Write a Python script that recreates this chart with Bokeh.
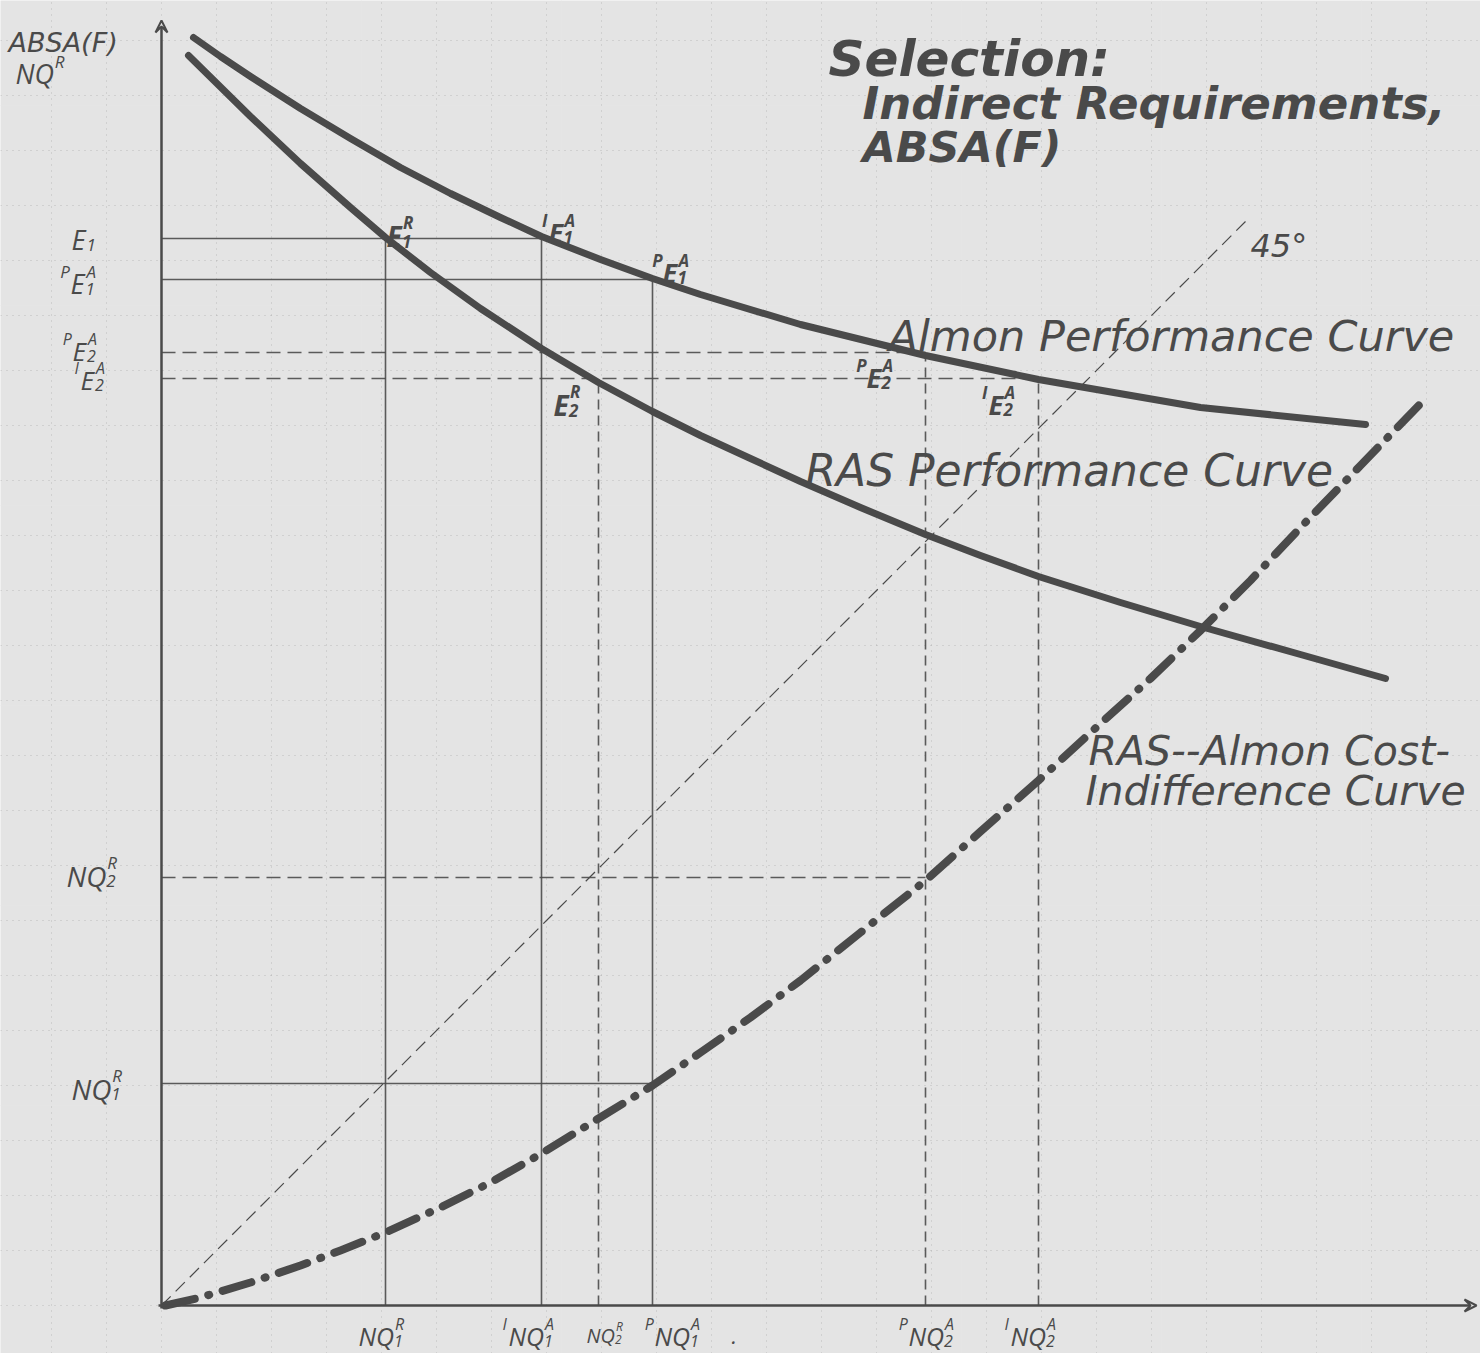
from bokeh.plotting import figure
from bokeh.models import ColumnDataSource, Arrow, VeeHead, Grid, SingleIntervalTicker, Range1d
from bokeh.core.properties import value
from bokeh.embed import file_html
from bokeh.resources import INLINE

INK = "#4a4a4a"
BG = "#e4e4e4"
FONT = "Open Sans"
HAND = "DejaVu Sans"

# ---- data (chart units; 1 unit = 100 px of the sketch, origin at the axes' corner) ----
almon_x = [0.32, 0.59, 0.89, 1.39, 1.89, 2.39, 2.89, 3.39, 3.80, 4.39, 4.91, 5.39,
           6.39, 7.64, 8.77, 10.39, 12.04]
almon_y = [12.68, 12.49, 12.29, 11.97, 11.67, 11.38, 11.12, 10.88, 10.69, 10.46, 10.27,
           10.11, 9.81, 9.50, 9.26, 8.98, 8.81]

ras_x = [0.27, 0.89, 1.39, 1.89, 2.24, 2.69, 3.19, 3.80, 4.37, 4.91, 5.39, 5.89, 6.39,
         6.99, 7.64, 8.19, 8.77, 9.59, 10.39, 11.39, 12.24]
ras_y = [12.50, 11.89, 11.42, 10.98, 10.68, 10.33, 9.97, 9.57, 9.23, 8.94, 8.70, 8.47,
         8.24, 7.98, 7.71, 7.50, 7.29, 7.03, 6.79, 6.51, 6.27]

cost_x = [0.04, 0.39, 0.89, 1.39, 1.79, 2.24, 2.79, 3.29, 3.80, 4.37, 4.91, 5.39, 5.89,
          6.39, 6.99, 7.64, 8.19, 8.77, 9.39, 9.89, 10.39, 10.89, 11.39, 11.99, 12.64]
cost_y = [0.00, 0.08, 0.23, 0.40, 0.55, 0.73, 0.98, 1.23, 1.52, 1.87, 2.20, 2.53, 2.88,
          3.25, 3.73, 4.25, 4.74, 5.25, 5.82, 6.27, 6.75, 7.25, 7.78, 8.40, 9.07]

deg45_x = [0.0, 10.85]
deg45_y = [0.0, 10.85]

# reference levels on the axes
x_levels = {"NQ1R": 2.24, "INQ1A": 3.80, "NQ2R": 4.37, "PNQ1A": 4.91, "PNQ2A": 7.64, "INQ2A": 8.77}
y_levels = {"E1": 10.67, "PE1A": 10.26, "PE2A": 9.53, "IE2A": 9.27, "NQ2R": 4.28, "NQ1R": 2.22}

# drop lines: (level name, extent)
v_solid = [("NQ1R", 10.67), ("INQ1A", 10.67), ("PNQ1A", 10.26)]
v_dash = [("NQ2R", 9.23), ("PNQ2A", 9.53), ("INQ2A", 9.27)]
h_solid = [("E1", 3.80), ("PE1A", 4.91), ("NQ1R", 4.91)]
h_dash = [("PE2A", 7.64), ("IE2A", 8.77), ("NQ2R", 7.64)]

p = figure(width=1480, height=1353,
           x_range=Range1d(-1.61, 13.19), y_range=Range1d(-0.48, 13.05),
           output_backend="svg", toolbar_location=None,
           x_axis_location=None, y_axis_location=None, min_border=0,
           background_fill_color=BG, border_fill_color=BG, outline_line_color=None)

# graph-paper grid
for dim in (0, 1):
    p.add_layout(Grid(dimension=dim, ticker=SingleIntervalTicker(interval=0.55),
                      grid_line_color="#9c9c9c", grid_line_dash="1 5",
                      grid_line_alpha=0.55, grid_line_width=1))

# axes
p.add_layout(Arrow(end=VeeHead(size=12, line_color=INK, line_width=2, fill_color=None),
                   x_start=0, y_start=-0.03, x_end=0, y_end=12.85,
                   line_color=INK, line_width=2.5))
p.add_layout(Arrow(end=VeeHead(size=12, line_color=INK, line_width=2, fill_color=None),
                   x_start=-0.03, y_start=0, x_end=13.15, y_end=0,
                   line_color=INK, line_width=2.5))

def seg(items, vertical):
    xs, ys = [], []
    for key, ext in items:
        if vertical:
            lv = x_levels[key]
            xs.append([lv, lv]); ys.append([0, ext])
        else:
            lv = y_levels[key]
            xs.append([0, ext]); ys.append([lv, lv])
    return xs, ys

for items, vert, dash in [(v_solid, True, "solid"), (v_dash, True, "10 6"),
                          (h_solid, False, "solid"), (h_dash, False, "14 7")]:
    xs, ys = seg(items, vert)
    p.multi_line(xs, ys, line_color=INK, line_width=1.6, line_dash=dash, line_alpha=0.9)

# 45 degree line
p.line(deg45_x, deg45_y, line_color=INK, line_width=1.2, line_dash="13 7")

# curves
p.line(almon_x, almon_y, line_color=INK, line_width=7, line_cap="round", line_join="round")
p.line(ras_x, ras_y, line_color=INK, line_width=7, line_cap="round", line_join="round")
p.line(cost_x, cost_y, line_color=INK, line_width=8, line_cap="round", line_join="round",
       line_dash="30 14 1 14")

# ---- text ----
CW = {"N": 0.66, "Q": 0.72, "E": 0.52, "I": 0.3, "P": 0.6}
PW = {"I": 0.32, "P": 0.55}

def sym(rows, x, y, main, pre="", sup="", sub="", size=26):
    """x,y: left/baseline of main symbol in chart units (1 unit = 100 px)."""
    w = sum(CW.get(c, 0.6) for c in main) * size / 100.0
    s2 = round(0.62 * size)
    rows.append((x, y, main, f"{size}px"))
    if pre:
        pw = sum(PW.get(c, 0.55) for c in pre) * s2 / 100.0
        rows.append((x - pw - 0.01, y + 0.45 * size / 100.0, pre, f"{s2}px"))
    if sup:
        rows.append((x + w + 0.02, y + 0.45 * size / 100.0, sup, f"{s2}px"))
    if sub:
        rows.append((x + w + 0.01, y - 0.2 * size / 100.0, sub, f"{s2}px"))

def src(rows):
    return ColumnDataSource(dict(x=[r[0] for r in rows], y=[r[1] for r in rows],
                                 text=[r[2] for r in rows], size=[r[3] for r in rows]))

def U(px):
    return (px - 161) / 100.0

def V(py):
    return (1305 - py) / 100.0

normal = []
# y-axis labels
sym(normal, U(71), V(239), "E", sub="1", size=27)
sym(normal, U(70), V(283), "E", pre="P", sup="A", sub="1", size=27)
sym(normal, U(72), V(350), "E", pre="P", sup="A", sub="2", size=26)
sym(normal, U(80), V(379), "E", pre="I", sup="A", sub="2", size=26)
sym(normal, U(66), V(875), "NQ", sup="R", sub="2", size=28)
sym(normal, U(71), V(1088), "NQ", sup="R", sub="1", size=28)
sym(normal, U(15), V(73), "NQ", sup="R", size=27)
# x-axis labels
XB = V(1335)
sym(normal, U(358), XB, "NQ", sup="R", sub="1", size=25)
sym(normal, U(508), XB, "NQ", pre="I", sup="A", sub="1", size=25)
sym(normal, U(586), XB, "NQ", sup="R", sub="2", size=20)
sym(normal, U(654), XB, "NQ", pre="P", sup="A", sub="1", size=25)
normal.append((U(731), XB, ".", "22px"))
sym(normal, U(908), XB, "NQ", pre="P", sup="A", sub="2", size=25)
sym(normal, U(1010), XB, "NQ", pre="I", sup="A", sub="2", size=25)

p.text(x="x", y="y", text="text", source=src(normal), text_font=value(FONT),
       text_font_size="size", text_font_style="italic", text_color=INK,
       text_align="left", text_baseline="alphabetic")

bold = []
sym(bold, U(386), V(235), "E", sup="R", sub="1", size=28)
sym(bold, U(548), V(232), "E", pre="I", sup="A", sub="1", size=27)
sym(bold, U(662), V(272), "E", pre="P", sup="A", sub="1", size=27)
sym(bold, U(553), V(404), "E", sup="R", sub="2", size=28)
sym(bold, U(866), V(377), "E", pre="P", sup="A", sub="2", size=27)
sym(bold, U(988), V(404), "E", pre="I", sup="A", sub="2", size=27)
p.text(x="x", y="y", text="text", source=src(bold), text_font=value(FONT),
       text_font_size="size", text_font_style="bold italic", text_color=INK,
       text_align="left", text_baseline="alphabetic")

# curve labels and corner axis title
curve_lbl = [
    (U(888), V(335), "Almon Performance Curve", "43px"),
    (U(805), V(470), "RAS Performance Curve", "44px"),
    (U(1088), V(750), "RAS--Almon Cost-", "41px"),
    (U(1085), V(790), "Indifference Curve", "41px"),
    (U(1250), V(245), "45°", "32px"),
    (U(8), V(42), "ABSA(F)", "27px"),
]
p.text(x="x", y="y", text="text", source=src(curve_lbl), text_font=value(HAND),
       text_font_size="size", text_font_style="italic", text_color=INK,
       text_align="left", text_baseline="alphabetic")

# title
title_lbl = [
    (U(828), V(58), "Selection:", "50px"),
    (U(862), V(103), "Indirect Requirements,", "45px"),
    (U(862), V(146), "ABSA(F)", "43px"),
]
p.text(x="x", y="y", text="text", source=src(title_lbl), text_font=value(HAND),
       text_font_size="size", text_font_style="bold italic", text_color=INK,
       text_align="left", text_baseline="alphabetic")

open("out.html", "w").write(file_html(p, INLINE))
